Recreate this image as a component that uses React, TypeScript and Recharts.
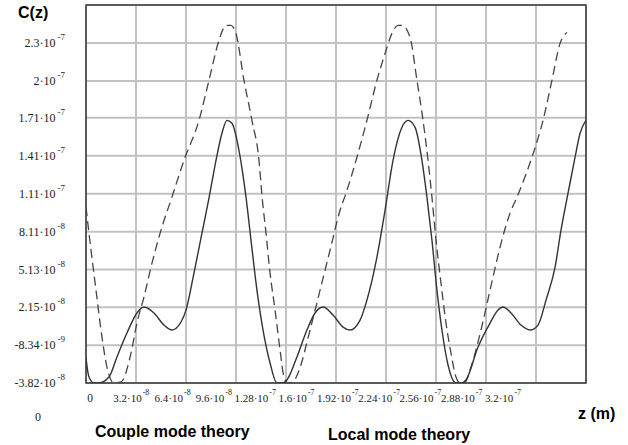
import { LineChart, Line, XAxis, YAxis, CartesianGrid, ReferenceArea } from 'recharts'

// z in units of 1e-8 m, C(z) in units of 1e-8
const coupleZ = [
  0, 0.19, 0.51, 0.83, 1.47, 1.98, 2.62, 3.26, 3.71, 4.35, 4.99, 5.5, 6.08, 6.4, 6.91, 7.42, 7.87, 8.32, 8.7,
  9.02, 9.34, 9.79, 10.24, 10.56, 10.94, 11.33, 11.78, 12.22, 12.54, 12.86, 13.5, 14.14, 14.66, 15.17, 15.81,
  16.45, 16.9, 17.54, 17.98, 18.62, 19.14, 19.65, 20.22, 20.61, 21.06, 21.5, 21.82, 22.14, 22.46, 22.78, 23.17,
  23.68, 24.0, 24.32, 25.09, 25.86, 26.37, 26.69, 27.2, 27.84, 28.42, 28.93, 29.44, 30.02, 30.4, 30.85, 31.3,
  31.62, 32,
]
const coupleC = [
  -1.85, -3.35, -3.82, -3.82, -3.35, -1.77, 0.12, 1.7, 2.17, 1.7, 0.75, 0.36, 0.99, 1.93, 4.85, 8.0, 10.76,
  13.75, 15.88, 16.9, 16.67, 14.54, 10.84, 7.45, 3.51, 0.36, -2.24, -3.82, -3.82, -3.58, -1.77, 0.36, 1.7, 2.17,
  1.54, 0.59, 0.36, 1.14, 2.72, 6.11, 9.81, 13.75, 16.35, 16.9, 16.35, 13.75, 10.84, 7.45, 3.51, 0.36, -2.4,
  -3.82, -3.82, -3.58, -0.98, 0.91, 1.93, 2.17, 1.7, 0.75, 0.36, 0.75, 2.72, 5.32, 8.24, 11.15, 13.99, 15.88,
  16.9,
]

const localZ = [
  0, 0.32, 0.64, 0.96, 1.34, 1.79, 2.24, 2.88, 3.26, 3.71, 4.16, 4.8, 5.5, 6.27, 7.23, 7.87, 8.51, 8.83, 9.02,
  9.28, 9.6, 10.11, 10.62, 11.07, 11.26, 11.52, 11.78, 12.1, 12.42, 12.67, 12.93, 13.25, 13.57, 14.34, 14.98,
  15.62, 16.26, 16.64, 17.34, 17.98, 18.62, 19.14, 19.58, 19.97, 20.22, 20.74, 21.18, 21.57, 21.89, 22.14, 22.4,
  22.72, 23.04, 23.36, 23.68, 23.94, 24.26, 24.64, 25.28, 25.86, 26.5, 27.14, 27.58, 28.54, 29.25, 29.82, 30.34,
  30.78,
]
const localC = [
  10.05, 6.66, 3.51, 0.36, -2.56, -3.82, -3.74, -1.46, 0.91, 2.96, 5.32, 8.24, 10.84, 13.75, 16.9, 20.06, 23.21,
  24.23, 24.39, 24.39, 23.76, 20.06, 16.9, 13.75, 10.99, 8.0, 4.85, 1.93, -1.22, -3.35, -3.82, -3.74, -3.03, 0.36,
  3.51, 6.66, 9.81, 11.15, 13.99, 16.9, 20.06, 22.18, 23.76, 24.39, 24.39, 23.44, 20.06, 16.9, 13.75, 10.84,
  7.45, 4.06, 0.91, -1.46, -3.35, -3.82, -3.74, -2.56, 0.36, 3.51, 6.9, 9.58, 10.84, 13.99, 16.9, 20.06, 22.97,
  23.84,
]

const xTicks = [0, 3.2, 6.4, 9.6, 12.8, 16, 19.2, 22.4, 25.6, 28.8, 32]
const xTickBase = ['0', '3.2', '6.4', '9.6', '1.28', '1.6', '1.92', '2.24', '2.56', '2.88', '3.2']
const xTickExp = ['', '-8', '-8', '-8', '-7', '-7', '-7', '-7', '-7', '-7', '-7']

const yTicks = [-3.82, -0.834, 2.15, 5.13, 8.11, 11.1, 14.1, 17.1, 20, 23]
const yTickBase = ['-3.82', '-8.34', '2.15', '5.13', '8.11', '1.11', '1.41', '1.71', '2', '2.3']
const yTickExp = ['-8', '-9', '-8', '-8', '-8', '-7', '-7', '-7', '-7', '-7']

const coupleData = coupleZ.map((z, i) => ({ z, c: coupleC[i] }))
const localData = localZ.map((z, i) => ({ z, c: localC[i] }))

const PLOT_LEFT = 86
const SERIF = '"Liberation Serif", "Times New Roman", serif'
const SANS = '"Liberation Sans", Arial, sans-serif'

function XTick(props: any) {
  const { x, y, index } = props
  // Mathcad packs the labels tighter than the grid
  const cx = 90 + (x - PLOT_LEFT) * 0.826
  if (index === 0) {
    return (
      <text x={cx} y={y + 11} textAnchor="middle" fontFamily={SERIF} fontSize={11.5} fill="#222">
        0
      </text>
    )
  }
  return (
    <text x={cx} y={y + 11} textAnchor="middle" fontFamily={SERIF} fontSize={11} fill="#222">
      {xTickBase[index]}·10
      <tspan dy={-7} dx={1} fontSize={8}>
        {xTickExp[index]}
      </tspan>
    </text>
  )
}

function YTick(props: any) {
  const { x, y, payload } = props
  const i = yTicks.indexOf(payload.value)
  if (i < 0) return null
  return (
    <text x={x - 13} y={y + 4} textAnchor="end" fontFamily={SERIF} fontSize={12} fill="#222">
      {yTickBase[i]}·10
      <tspan dy={-7} dx={2} fontSize={9}>
        {yTickExp[i]}
      </tspan>
    </text>
  )
}

const boldText = { position: 'absolute' as const, fontFamily: SANS, fontWeight: 'bold', fontSize: 16, lineHeight: '17px' }

export default function App() {
  return (
    <div
      style={{
        position: 'fixed',
        left: 0,
        top: 0,
        width: 628,
        height: 445,
        background: '#fff',
      }}
    >
      <LineChart width={628} height={410} margin={{ top: 5, right: 42, bottom: 0, left: 0 }}>
        <CartesianGrid stroke="#c2c2c2" strokeWidth={2} />
        <XAxis
          type="number"
          dataKey="z"
          domain={[0, 32]}
          ticks={xTicks}
          interval={0}
          allowDataOverflow
          height={27}
          axisLine={false}
          tickLine={false}
          tick={(p: any) => <XTick {...p} />}
        />
        <YAxis
          type="number"
          dataKey="c"
          domain={[-3.82, 26.0]}
          ticks={yTicks}
          interval={0}
          allowDataOverflow
          width={86}
          axisLine={false}
          tickLine={false}
          tick={(p: any) => <YTick {...p} />}
        />
        <ReferenceArea
          x1={0}
          x2={32}
          y1={-3.82}
          y2={26.0}
          fill="none"
          stroke="#3a3a3a"
          strokeWidth={1.5}
          ifOverflow="visible"
        />
        <Line
          data={localData}
          dataKey="c"
          type="monotone"
          stroke="#444"
          strokeWidth={1.3}
          strokeDasharray="9 5"
          dot={false}
          isAnimationActive={false}
          name="Local mode theory"
        />
        <Line
          data={coupleData}
          dataKey="c"
          type="monotone"
          stroke="#333"
          strokeWidth={1.4}
          dot={false}
          isAnimationActive={false}
          name="Couple mode theory"
        />
      </LineChart>
      <div style={{ ...boldText, left: 18, top: 4 }}>C(z)</div>
      <div style={{ position: 'absolute', left: 35, top: 410, fontFamily: SERIF, fontSize: 12, color: '#222' }}>
        0
      </div>
      <div style={{ ...boldText, left: 578, top: 405 }}>z (m)</div>
      <div style={{ ...boldText, left: 95, top: 423 }}>Couple mode theory</div>
      <div style={{ ...boldText, left: 328, top: 426 }}>Local mode theory</div>
    </div>
  )
}
